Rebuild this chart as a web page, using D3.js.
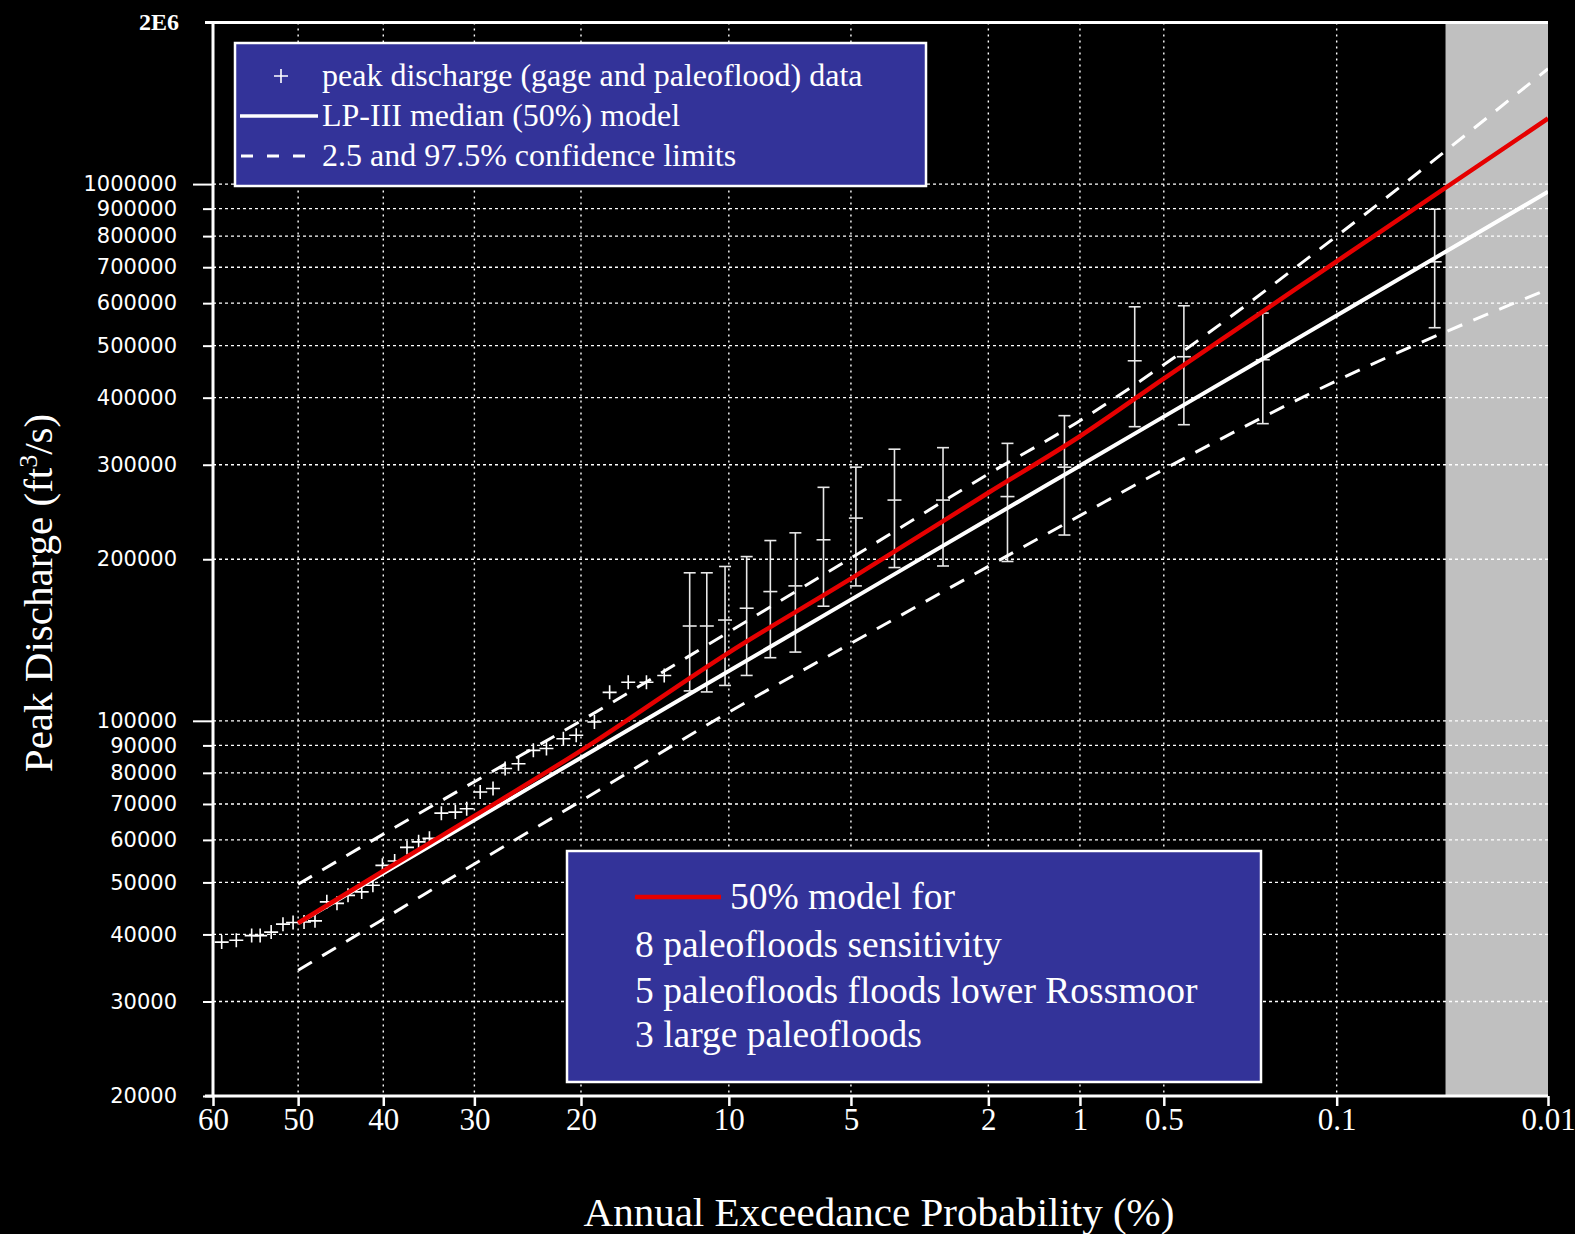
<!DOCTYPE html>
<html><head><meta charset="utf-8">
<script src="https://cdn.jsdelivr.net/npm/d3@7"></script>
<style>body{margin:0;background:#000;} svg{display:block}</style>
</head><body>
<svg id="c" width="1575" height="1234"></svg>
<script>
// ---------------- data ----------------
const xTicks = [60, 50, 40, 30, 20, 10, 5, 2, 1, 0.5, 0.1, 0.01];
const xTickLabels = ["60", "50", "40", "30", "20", "10", "5", "2", "1", "0.5", "0.1", "0.01"];
const yTicks = [20000, 30000, 40000, 50000, 60000, 70000, 80000, 90000, 100000,
                200000, 300000, 400000, 500000, 600000, 700000, 800000, 900000, 1000000];
const yTickLabels = ["20000", "30000", "40000", "50000", "60000", "70000", "80000", "90000", "100000",
                     "200000", "300000", "400000", "500000", "600000", "700000", "800000", "900000", "1000000"];
const yTopLabel = "2E6";
const shadeFrom = 0.032; // exceedance % where grey band starts

// model curves at these exceedance probabilities (%)
const curveProb = [50, 40, 30, 20, 10, 5, 2, 1, 0.5, 0.1, 0.01];
const medianQ = [41980, 51970, 65340, 85370, 123800, 168200, 237400, 298800, 368800, 569100, 967400];
const upperQ  = [49600, 61500, 77000, 100000, 146400, 201000, 288300, 362400, 460700, 800000, 1640000];
const lowerQ  = [34300, 42700, 54100, 70900, 103800, 139400, 194000, 241200, 294100, 430200, 637000];
const redQ    = [42000, 52500, 66500, 88000, 134000, 184000, 266000, 339000, 434000, 718000, 1325000];

// gage data (plotting position %, discharge)
const gageProb = [59.0, 57.3, 55.5, 54.5, 53.2, 51.8, 50.6, 49.3, 48.0, 46.6, 45.4, 44.1, 42.5, 41.2, 40.1,
                  38.7, 37.3, 36.0, 34.8, 33.5, 32.0, 30.8, 29.4, 28.1, 26.9, 25.6, 24.2, 23.0, 21.5, 20.4,
                  18.9, 17.7, 16.3, 15.0, 13.8];
const gageQ = [38700, 39000, 39800, 39800, 40400, 41800, 42100, 42200, 42400, 46000, 45700, 47300, 48000, 49400, 53800,
               54800, 58100, 59500, 60400, 67300, 67600, 68600, 73700, 74800, 81500, 83200, 88100, 88800, 92600, 94000,
               99500, 113000, 118000, 118000, 121500];

// paleoflood / larger floods with ranges
const paleoProb = [12.2, 11.2, 10.2, 9.1, 8.0, 6.95, 5.9, 4.85, 3.8, 2.75, 1.74, 1.13, 0.64, 0.42, 0.205, 0.036];
const paleoQ    = [150200, 150200, 154100, 162100, 174100, 178400, 217400, 238600, 257800, 257800, 261700, 296900, 468600, 476800, 470700, 716400];
const paleoLow  = [113700, 113200, 116400, 121500, 131100, 134300, 163500, 178400, 193000, 194300, 198100, 221900, 353200, 356200, 357800, 540000];
const paleoHigh = [188700, 188700, 193900, 202300, 216700, 224000, 272300, 296900, 320700, 322800, 328800, 370300, 590700, 593300, 575000, 897400];

const legend1 = ["peak discharge (gage and paleoflood) data", "LP-III median (50%) model", "2.5 and 97.5% confidence limits"];
const legend2 = ["50% model for", "8 paleofloods sensitivity", "5 paleofloods floods lower Rossmoor", "3 large paleofloods"];
const xTitle = "Annual Exceedance Probability (%)";

// ---------------- helpers ----------------
function probit(p){
  const a=[-3.969683028665376e+01,2.209460984245205e+02,-2.759285104469687e+02,1.383577518672690e+02,-3.066479806614716e+01,2.506628277459239e+00];
  const b=[-5.447609879822406e+01,1.615858368580409e+02,-1.556989798598866e+02,6.680131188771972e+01,-1.328068155288572e+01];
  const c=[-7.784894002430293e-03,-3.223964580411365e-01,-2.400758277161838e+00,-2.549671071685156e+00,4.374664141464968e+00,2.938163982698783e+00];
  const d=[7.784695709041462e-03,3.224671290700398e-01,2.445134137142996e+00,3.754408661907416e+00];
  const pl=0.02425, ph=1-pl; let q,r;
  if(p<pl){q=Math.sqrt(-2*Math.log(p));return (((((c[0]*q+c[1])*q+c[2])*q+c[3])*q+c[4])*q+c[5])/((((d[0]*q+d[1])*q+d[2])*q+d[3])*q+1);}
  if(p<=ph){q=p-0.5;r=q*q;return (((((a[0]*r+a[1])*r+a[2])*r+a[3])*r+a[4])*r+a[5])*q/(((((b[0]*r+b[1])*r+b[2])*r+b[3])*r+b[4])*r+1);}
  q=Math.sqrt(-2*Math.log(1-p));return -(((((c[0]*q+c[1])*q+c[2])*q+c[3])*q+c[4])*q+c[5])/((((d[0]*q+d[1])*q+d[2])*q+d[3])*q+1);
}
const zOf = p => probit(1 - p / 100);

// ---------------- layout ----------------
const L = 213, R = 1548, T = 22.5, B = 1096;
const SERIF = "'Liberation Serif','Times New Roman',serif";
const SANS = "'DejaVu Sans',Verdana,sans-serif";

const svg = d3.select('#c');
svg.append('rect').attr('width', 1575).attr('height', 1234).attr('fill', '#000');

const zx = d3.scaleLinear().domain([zOf(60), zOf(0.01)]).range([L, R]);
const xp = p => zx(zOf(p));
const y = d3.scaleLog().domain([20000, 2000000]).range([B, T]);

svg.append('clipPath').attr('id', 'clip').append('rect')
  .attr('x', L).attr('y', T).attr('width', R - L).attr('height', B - T);

// grey band
svg.append('rect').attr('x', xp(shadeFrom)).attr('y', T)
  .attr('width', R - xp(shadeFrom)).attr('height', B - T).attr('fill', '#c0c0c0');

// grid
const grid = svg.append('g');
grid.selectAll('line.v').data(xTicks.filter(p => p !== 60 && p !== 0.01)).join('line')
  .attr('x1', d => xp(d)).attr('x2', d => xp(d)).attr('y1', T).attr('y2', B)
  .attr('stroke', '#fff').attr('stroke-width', 1.4).attr('stroke-dasharray', '2,4');
grid.selectAll('line.h').data(yTicks.filter(v => v !== 20000)).join('line')
  .attr('x1', L).attr('x2', R).attr('y1', d => y(d)).attr('y2', d => y(d))
  .attr('stroke', '#fff').attr('stroke-width', 1.4).attr('stroke-dasharray', '3,3');

// axes
const yAxis = d3.axisLeft(y).tickValues(yTicks).tickFormat((d, i) => yTickLabels[i])
  .tickSize(10).tickPadding(26);
const gy = svg.append('g').attr('transform', `translate(${L},0)`).call(yAxis);
gy.select('.domain').remove();
gy.selectAll('.tick line').attr('stroke', '#fff').attr('stroke-width', 2)
  .attr('x2', d => (d === 100000 || d === 1000000) ? -20 : -10);
gy.selectAll('.tick text').attr('fill', '#fff').attr('font-family', SANS).attr('font-size', 21);

const xAxis = d3.axisBottom(zx).tickValues(xTicks.map(zOf)).tickFormat((d, i) => xTickLabels[i])
  .tickSize(10).tickPadding(2);
const gx = svg.append('g').attr('transform', `translate(0,${B})`).call(xAxis);
gx.select('.domain').remove();
gx.selectAll('.tick line').attr('stroke', '#fff').attr('stroke-width', 2.5);
gx.selectAll('.tick text').attr('fill', '#fff').attr('font-family', SERIF).attr('font-size', 31);

// frame lines
svg.append('line').attr('x1', L).attr('x2', L).attr('y1', T).attr('y2', B).attr('stroke', '#fff').attr('stroke-width', 3);
svg.append('line').attr('x1', 205).attr('x2', R).attr('y1', B).attr('y2', B).attr('stroke', '#fff').attr('stroke-width', 3);
svg.append('line').attr('x1', 205).attr('x2', R).attr('y1', T).attr('y2', T).attr('stroke', '#fff').attr('stroke-width', 3);
svg.append('text').attr('x', 179).attr('y', y(2000000) + 7).attr('text-anchor', 'end')
  .attr('fill', '#fff').attr('font-family', SERIF).attr('font-weight', 'bold').attr('font-size', 24).text(yTopLabel);

// axis titles
svg.append('text').attr('x', 879).attr('y', 1226).attr('text-anchor', 'middle')
  .attr('fill', '#fff').attr('font-family', SERIF).attr('font-size', 41).text(xTitle);
const yt = svg.append('text').attr('transform', 'translate(52,593) rotate(-90)').attr('text-anchor', 'middle')
  .attr('fill', '#fff').attr('font-family', SERIF).attr('font-size', 41);
yt.append('tspan').text('Peak Discharge (ft');
yt.append('tspan').attr('font-size', 26).attr('dy', -15).text('3');
yt.append('tspan').attr('dy', 15).text('/s)');

// plot content
const plot = svg.append('g').attr('clip-path', 'url(#clip)');
const line = d3.line().x(d => xp(d[0])).y(d => y(d[1])).curve(d3.curveMonotoneX);
const zip = arr => curveProb.map((p, i) => [p, arr[i]]);

// gage points
const plusPath = 'M-7,0H7M0,-7V7';
plot.selectAll('path.g').data(gageProb.map((p, i) => [p, gageQ[i]])).join('path')
  .attr('d', plusPath).attr('transform', d => `translate(${xp(d[0])},${y(d[1])})`)
  .attr('stroke', '#fff').attr('stroke-width', 1.6).attr('fill', 'none');

// paleo with ranges
const pg = plot.selectAll('g.pal').data(paleoProb.map((p, i) => ({p, q: paleoQ[i], lo: paleoLow[i], hi: paleoHigh[i]}))).join('g')
  .attr('transform', d => `translate(${xp(d.p)},0)`)
  .attr('stroke', '#e8e8e8').attr('stroke-width', 1.6).attr('fill', 'none');
pg.append('line').attr('x1', 0).attr('x2', 0).attr('y1', d => y(d.lo)).attr('y2', d => y(d.hi));
pg.append('line').attr('x1', -6).attr('x2', 6).attr('y1', d => y(d.lo)).attr('y2', d => y(d.lo));
pg.append('line').attr('x1', -6).attr('x2', 6).attr('y1', d => y(d.hi)).attr('y2', d => y(d.hi));
pg.append('line').attr('x1', -7).attr('x2', 7).attr('y1', d => y(d.q)).attr('y2', d => y(d.q));

// confidence limits
[upperQ, lowerQ].forEach(arr => {
  plot.append('path').attr('d', line(zip(arr))).attr('fill', 'none')
    .attr('stroke', '#fff').attr('stroke-width', 3).attr('stroke-dasharray', '16,12');
});
plot.append('path').attr('d', line(zip(medianQ))).attr('fill', 'none').attr('stroke', '#fff').attr('stroke-width', 4);
plot.append('path').attr('d', line(zip(redQ))).attr('fill', 'none').attr('stroke', '#e60000').attr('stroke-width', 4.5);

// legend 1
const lg1 = svg.append('g');
lg1.append('rect').attr('x', 235).attr('y', 43).attr('width', 691).attr('height', 143)
  .attr('fill', '#333399').attr('stroke', '#fff').attr('stroke-width', 2.5);
lg1.append('path').attr('d', plusPath).attr('transform', 'translate(281,76)').attr('stroke', '#fff').attr('stroke-width', 1.6);
lg1.append('line').attr('x1', 240).attr('x2', 318).attr('y1', 116).attr('y2', 116).attr('stroke', '#fff').attr('stroke-width', 3.5);
lg1.append('line').attr('x1', 241).attr('x2', 305).attr('y1', 156).attr('y2', 156).attr('stroke', '#fff').attr('stroke-width', 3).attr('stroke-dasharray', '12,14');
lg1.selectAll('text').data(legend1).join('text')
  .attr('x', 322).attr('y', (d, i) => 86 + i * 40)
  .attr('fill', '#fff').attr('font-family', SERIF).attr('font-size', 32).text(d => d);

// legend 2
const lg2 = svg.append('g');
lg2.append('rect').attr('x', 567).attr('y', 851).attr('width', 694).attr('height', 231)
  .attr('fill', '#333399').attr('stroke', '#fff').attr('stroke-width', 2.5);
lg2.append('line').attr('x1', 635).attr('x2', 721).attr('y1', 897).attr('y2', 897).attr('stroke', '#e60000').attr('stroke-width', 4.5);
const l2y = [909, 957, 1003, 1047];
lg2.selectAll('text').data(legend2).join('text')
  .attr('x', (d, i) => i === 0 ? 730 : 635).attr('y', (d, i) => l2y[i])
  .attr('fill', '#fff').attr('font-family', SERIF).attr('font-size', 37.5).text(d => d);
</script>
</body></html>
